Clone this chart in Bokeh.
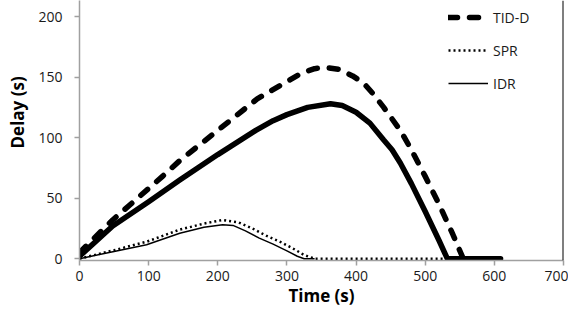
from bokeh.plotting import figure
from bokeh.models import Range1d, FixedTicker, Legend, LegendItem, Span, Title
from bokeh.embed import file_html
from bokeh.resources import INLINE

# ---- data ----
tid_x = [0, 48, 100, 145, 200, 255, 280, 300, 330, 363, 380, 400, 420, 440, 452, 464, 480, 500, 520, 532, 560, 609]
tid_y = [2, 27, 47, 65, 86, 106, 114, 119, 125, 128, 126.5, 121, 112, 98, 90, 79, 62, 39, 15, 0, 0, 0]

tidd_x = [0, 48, 120, 145, 200, 257, 296, 320, 340, 356, 375, 395, 411, 425, 440, 464, 480, 500, 520, 540, 555, 609]
tidd_y = [5, 32, 68, 81, 106, 132, 145, 153, 157, 158, 156.5, 151, 145, 136, 125, 106, 90, 68, 45, 20, 0, 0]

spr_x = [0, 50, 97, 145, 180, 207, 230, 250, 270, 290, 310, 325, 340, 530]
spr_y = [0, 7, 14, 24, 29, 32, 30, 25, 19, 14, 8, 3, 0, 0]

idr_x = [0, 50, 97, 145, 180, 207, 222, 240, 260, 280, 300, 315, 325, 340]
idr_y = [0, 6, 11.5, 21, 26, 28, 27.5, 23, 17, 12, 6.5, 2, 0, 0]

x_ticks = [0, 100, 200, 300, 400, 500, 600, 700]
y_ticks = [0, 50, 100, 150, 200, 250]

FONT = "Open Sans"

p = figure(width=568, height=309, output_backend="svg", toolbar_location=None,
           x_range=Range1d(0, 700), y_range=Range1d(-1.5, 213.3),
           min_border_left=79, min_border_right=5, min_border_top=0, min_border_bottom=0)
p.background_fill_color = "white"
p.border_fill_color = "white"
p.outline_line_color = None
p.grid.visible = False

for ax in (p.xaxis, p.yaxis):
    ax.axis_line_color = "#a0a0a0"
    ax.axis_line_width = 1.5
    ax.major_tick_line_color = "#a0a0a0"
    ax.major_tick_line_width = 1.5
    ax.major_tick_out = 5
    ax.major_tick_in = 0
    ax.minor_tick_line_color = None
    ax.major_label_text_font = FONT
    ax.major_label_text_font_size = "14px"
    ax.major_label_text_color = "#1a1a1a"

p.xaxis.ticker = FixedTicker(ticks=x_ticks)
p.yaxis.ticker = FixedTicker(ticks=y_ticks)
p.xaxis.major_label_standoff = 5
p.yaxis.major_label_standoff = 12
p.xaxis.axis_label = "Time (s)"
p.xaxis.axis_label_text_font = FONT
p.xaxis.axis_label_text_font_style = "bold"
p.xaxis.axis_label_text_font_size = "17px"
p.xaxis.axis_label_text_color = "black"
p.xaxis.axis_label_standoff = 0

r_tid = p.line(tid_x, tid_y, line_color="black", line_width=5.5, line_join="round")
r_tidd = p.line(tidd_x, tidd_y, line_color="black", line_width=5.5, line_dash="9 12",
                line_cap="round", line_join="round")
r_spr = p.line(spr_x, spr_y, line_color="black", line_width=2.5, line_dash="2 3")
r_idr = p.line(idr_x, idr_y, line_color="black", line_width=1.5)

p.add_layout(Span(location=700, dimension="height", line_color="black", line_width=2))

ytitle = Title(text="Delay (s)", align="left", offset=112, vertical_align="top",
               text_font=FONT, text_font_style="bold", text_font_size="17px",
               text_color="black", standoff=10)
p.add_layout(ytitle, "left")

legend = Legend(items=[LegendItem(label="TID-D", renderers=[r_tidd]),
                       LegendItem(label="SPR", renderers=[r_spr]),
                       LegendItem(label="IDR", renderers=[r_idr])],
                location=(369, 167))
legend.glyph_width = 40
legend.glyph_height = 20
legend.label_height = 20
legend.spacing = 13
legend.padding = 2
legend.margin = 0
legend.label_standoff = 5
legend.label_text_font = FONT
legend.label_text_font_size = "14px"
legend.label_text_color = "#1a1a1a"
legend.border_line_color = None
legend.background_fill_alpha = 0
p.add_layout(legend)

open("out.html", "w").write(file_html(p, INLINE))
